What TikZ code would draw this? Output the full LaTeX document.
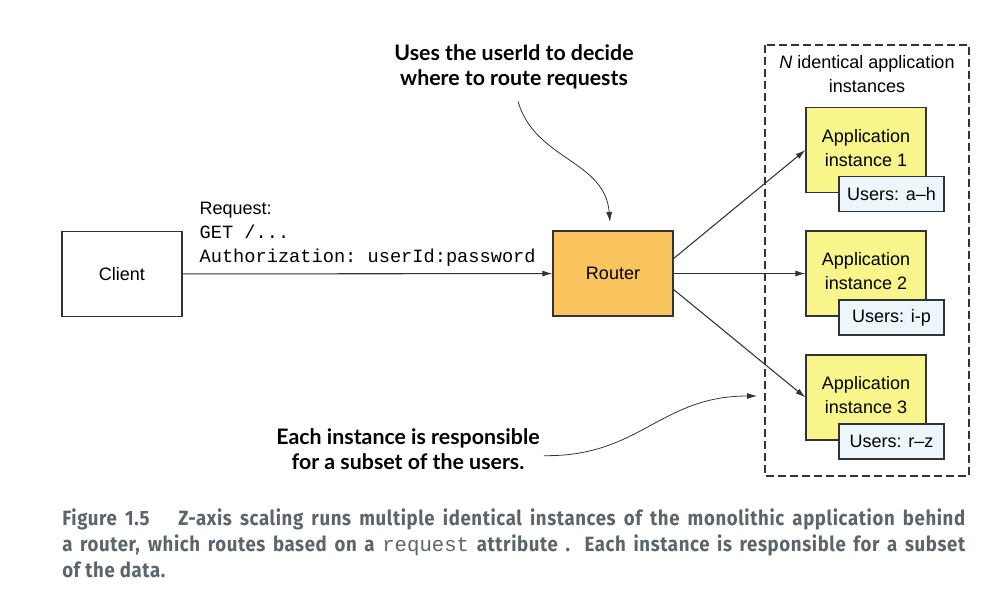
\documentclass[tikz,border=0pt]{standalone}
\usepackage{fontspec}
\setmainfont{Liberation Sans}
\setmonofont{Liberation Mono}
\newfontfamily\notefont{Lato}
\newfontfamily\capfont[FakeStretch=0.9, LetterSpace=3]{Fira Sans}
\usetikzlibrary{arrows.meta}

\definecolor{linegray}{RGB}{51,51,51}
\definecolor{routerfill}{RGB}{250,196,94}
\definecolor{appfill}{RGB}{248,246,138}
\definecolor{usersfill}{RGB}{237,247,251}
\definecolor{capgray}{RGB}{92,100,108}

\tikzset{
  box/.style={draw=linegray, line width=0.9pt, inner sep=0pt, align=center,
    minimum width=90pt, minimum height=63.75pt},
  usersbox/.style={box, fill=usersfill, minimum width=78.75pt, minimum height=26.25pt},
  flow/.style={draw=linegray, line width=0.8pt, -{Latex[length=7.5pt,width=4.5pt]}},
  note/.style={font=\notefont\bfseries\fontsize{16}{18.75}\selectfont, align=center, inner sep=0pt},
}

\begin{document}
\begin{tikzpicture}[x=0.75pt, y=-0.75pt, font=\fontsize{13.5}{18}\selectfont]
  \useasboundingbox (0,0) rectangle (988,592);

  \node[box] (client) at (122,274) {Client};
  \node[box, fill=routerfill] (router) at (613,273.5) {Router};

  % the N instances
  \draw[linegray, line width=0.8pt, dash pattern=on 6pt off 3pt] (765,45) rectangle (969,476);
  \node[align=center, inner sep=0pt] (ninst) at (867,74) {\textit{N} identical application\\instances};
  \foreach \i/\u/\y in {1/a--h/150, 2/i-p/273.5, 3/r--z/397.5} {
    \node[box, fill=appfill] (app\i) at (866,\y) {};
    \node[align=center, inner sep=0pt] (apptext\i) at (866,\y-2) {Application\\instance \i};
    \node[usersbox] (users\i) at (891.5,\y+44) {Users: \u};
  }

  \draw[flow] (client) -- (router)
    node[pos=0.05, anchor=south west, align=left, inner sep=0pt, xshift=-1.5pt, yshift=5.25pt] (req)
    {Request:\\\texttt{\fontsize{14}{18}\selectfont GET /...}\\\texttt{\fontsize{14}{18}\selectfont Authorization: userId:password}};
  \draw[flow] ([yshift=11.25pt]router.east) -- (app1.west);
  \draw[flow] (router.east) -- (app2.west);
  \draw[flow] ([yshift=-12pt]router.east) -- (app3.west);

  % annotations
  \node[note] (routenote) at (514,67) {Uses the userId to decide\\where to route requests};
  \coordinate (routetip) at (610,222);
  \draw[flow, line width=0.6pt] ([xshift=3pt,yshift=-9pt]routenote.south) .. controls (535,160) and (605,160) .. (routetip);

  \node[note] (subsetnote) at (408,449) {Each instance is responsible\\for a subset of the users.};
  \coordinate (subsettip) at (757,396);
  \draw[flow, line width=0.6pt] ([xshift=3pt,yshift=-5pt]subsetnote.east) .. controls (640,457) and (660,396) .. (subsettip);

  % caption
  \node[anchor=north west, align=left, inner sep=0pt, text=capgray,
    font=\capfont\bfseries\fontsize{15.5}{19.5}\selectfont] (caption) at (62,508)
    {\makebox[677.25pt][s]{Figure 1.5\quad\ Z-axis scaling runs multiple identical instances of the monolithic application behind}\\
     \makebox[677.25pt][s]{a router, which routes based on a {\ttfamily\mdseries request} attribute . Each instance is responsible for a subset}\\
     of the data.};
\end{tikzpicture}
\end{document}
